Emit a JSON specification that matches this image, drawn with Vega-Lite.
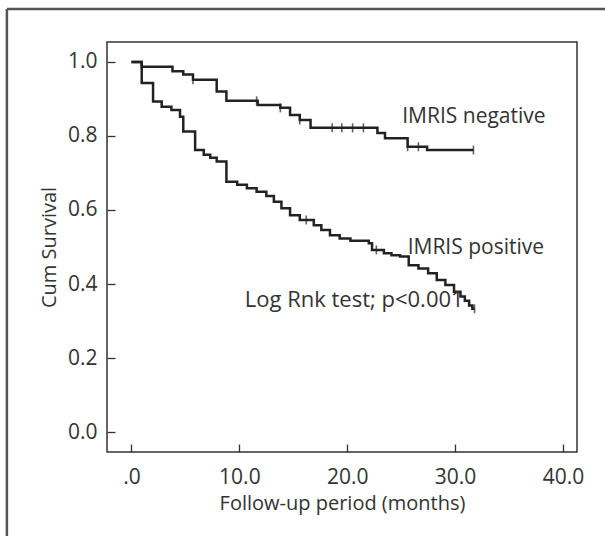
{
  "$schema": "https://vega.github.io/schema/vega-lite/v6.json",
  "width": 470,
  "height": 410,
  "autosize": {"type": "none"},
  "padding": {"left": 107, "top": 42, "right": 28, "bottom": 84},
  "background": "white",
  "config": {
    "view": {"stroke": "#333333", "strokeWidth": 1.5},
    "font": "Open Sans",
    "axis": {
      "grid": false,
      "domain": false,
      "tickColor": "#333333",
      "tickSize": -8,
      "tickWidth": 1.3,
      "labelFont": "Open Sans",
      "labelFontSize": 21,
      "labelColor": "#333333",
      "titleFont": "Open Sans",
      "titleFontSize": 20,
      "titleFontWeight": "normal",
      "titleColor": "#333333"
    }
  },
  "datasets": {
    "curves": [
      {"group": "negative", "t": 0, "s": 1.0},
      {"group": "negative", "t": 0.95, "s": 0.987},
      {"group": "negative", "t": 3.8, "s": 0.975},
      {"group": "negative", "t": 4.8, "s": 0.966},
      {"group": "negative", "t": 5.7, "s": 0.952},
      {"group": "negative", "t": 7.9, "s": 0.92},
      {"group": "negative", "t": 8.8, "s": 0.895},
      {"group": "negative", "t": 11.7, "s": 0.884},
      {"group": "negative", "t": 13.8, "s": 0.876},
      {"group": "negative", "t": 14.7, "s": 0.857},
      {"group": "negative", "t": 15.6, "s": 0.843},
      {"group": "negative", "t": 16.6, "s": 0.822},
      {"group": "negative", "t": 22.8, "s": 0.808},
      {"group": "negative", "t": 23.5, "s": 0.794},
      {"group": "negative", "t": 25.6, "s": 0.771},
      {"group": "negative", "t": 27.4, "s": 0.762},
      {"group": "negative", "t": 31.7, "s": 0.762},
      {"group": "positive", "t": 0, "s": 1.0},
      {"group": "positive", "t": 0.95, "s": 0.943},
      {"group": "positive", "t": 2.0, "s": 0.893},
      {"group": "positive", "t": 2.8, "s": 0.879},
      {"group": "positive", "t": 3.7, "s": 0.87},
      {"group": "positive", "t": 4.5, "s": 0.852},
      {"group": "positive", "t": 4.8, "s": 0.812},
      {"group": "positive", "t": 5.9, "s": 0.762},
      {"group": "positive", "t": 6.7, "s": 0.749},
      {"group": "positive", "t": 7.3, "s": 0.741},
      {"group": "positive", "t": 7.9, "s": 0.731},
      {"group": "positive", "t": 8.8, "s": 0.676},
      {"group": "positive", "t": 9.8, "s": 0.668},
      {"group": "positive", "t": 10.7, "s": 0.659},
      {"group": "positive", "t": 11.6, "s": 0.649},
      {"group": "positive", "t": 12.5, "s": 0.638},
      {"group": "positive", "t": 13.2, "s": 0.622},
      {"group": "positive", "t": 13.9, "s": 0.605},
      {"group": "positive", "t": 14.7, "s": 0.586},
      {"group": "positive", "t": 15.6, "s": 0.573},
      {"group": "positive", "t": 16.9, "s": 0.559},
      {"group": "positive", "t": 17.6, "s": 0.546},
      {"group": "positive", "t": 18.4, "s": 0.532},
      {"group": "positive", "t": 19.3, "s": 0.523},
      {"group": "positive", "t": 20.3, "s": 0.517},
      {"group": "positive", "t": 22.0, "s": 0.51},
      {"group": "positive", "t": 22.3, "s": 0.492},
      {"group": "positive", "t": 23.4, "s": 0.483},
      {"group": "positive", "t": 24.1, "s": 0.478},
      {"group": "positive", "t": 24.9, "s": 0.474},
      {"group": "positive", "t": 25.7, "s": 0.451},
      {"group": "positive", "t": 26.6, "s": 0.442},
      {"group": "positive", "t": 27.5, "s": 0.429},
      {"group": "positive", "t": 28.3, "s": 0.411},
      {"group": "positive", "t": 29.1, "s": 0.397},
      {"group": "positive", "t": 29.9, "s": 0.379},
      {"group": "positive", "t": 30.5, "s": 0.366},
      {"group": "positive", "t": 30.9, "s": 0.355},
      {"group": "positive", "t": 31.3, "s": 0.342},
      {"group": "positive", "t": 31.6, "s": 0.333},
      {"group": "positive", "t": 31.8, "s": 0.333}
    ],
    "censored": [
      {"group": "negative", "t": 5.7, "s": 0.952},
      {"group": "negative", "t": 11.6, "s": 0.895},
      {"group": "negative", "t": 13.8, "s": 0.876},
      {"group": "negative", "t": 15.6, "s": 0.843},
      {"group": "negative", "t": 18.6, "s": 0.822},
      {"group": "negative", "t": 19.5, "s": 0.822},
      {"group": "negative", "t": 20.5, "s": 0.822},
      {"group": "negative", "t": 21.5, "s": 0.822},
      {"group": "negative", "t": 25.6, "s": 0.771},
      {"group": "negative", "t": 26.6, "s": 0.771},
      {"group": "negative", "t": 31.7, "s": 0.762},
      {"group": "positive", "t": 16.2, "s": 0.573},
      {"group": "positive", "t": 22.7, "s": 0.492},
      {"group": "positive", "t": 31.8, "s": 0.333}
    ],
    "notes": [
      {"label": "IMRIS negative", "t": 25.1, "s": 0.851},
      {"label": "IMRIS positive", "t": 25.6, "s": 0.497}
    ],
    "test": [
      {"label": "Log Rnk test; p<0.001", "t": 10.5, "s": 0.357}
    ],
    "frame": [
      {"side": "frame"}
    ]
  },
  "layer": [
    {
      "data": {"name": "curves"},
      "mark": {"type": "line", "interpolate": "step-after", "color": "#222222", "strokeWidth": 2.5},
      "encoding": {
        "x": {
          "field": "t", "type": "quantitative",
          "scale": {"domain": [-2.27, 41.3], "nice": false, "zero": false},
          "axis": {
            "values": [0, 10, 20, 30, 40],
            "labelExpr": "datum.value == 0 ? '.0' : format(datum.value, '.1f')",
            "labelFlush": false,
            "labelPadding": 22,
            "title": "Follow-up period (months)",
            "titlePadding": 6
          }
        },
        "y": {
          "field": "s", "type": "quantitative",
          "scale": {"domain": [-0.054, 1.054], "nice": false, "zero": false},
          "axis": {
            "values": [0, 0.2, 0.4, 0.6, 0.8, 1.0],
            "format": ".1f",
            "labelPadding": 18,
            "title": "Cum Survival",
            "titlePadding": 8
          }
        },
        "detail": {"field": "group"}
      }
    },
    {
      "data": {"name": "censored"},
      "mark": {"type": "tick", "orient": "vertical", "color": "#222222", "size": 9, "thickness": 1.6},
      "encoding": {
        "x": {"field": "t", "type": "quantitative"},
        "y": {"field": "s", "type": "quantitative"}
      }
    },
    {
      "data": {"name": "notes"},
      "mark": {"type": "text", "align": "left", "baseline": "middle", "fontSize": 21, "color": "#333333", "font": "Open Sans"},
      "encoding": {
        "x": {"field": "t", "type": "quantitative"},
        "y": {"field": "s", "type": "quantitative"},
        "text": {"field": "label"}
      }
    },
    {
      "data": {"name": "test"},
      "mark": {"type": "text", "align": "left", "baseline": "middle", "fontSize": 22, "color": "#333333", "font": "Open Sans"},
      "encoding": {
        "x": {"field": "t", "type": "quantitative"},
        "y": {"field": "s", "type": "quantitative"},
        "text": {"field": "label"}
      }
    },
    {
      "data": {"name": "frame"},
      "mark": {"type": "rule", "color": "#555555", "strokeWidth": 2.5},
      "encoding": {
        "x": {"datum": -11.55, "type": "quantitative"},
        "y": {"datum": 1.143, "type": "quantitative"},
        "y2": {"datum": -0.3}
      }
    },
    {
      "data": {"name": "frame"},
      "mark": {"type": "rule", "color": "#555555", "strokeWidth": 2.5},
      "encoding": {
        "x": {"datum": -11.55, "type": "quantitative"},
        "x2": {"datum": 46},
        "y": {"datum": 1.143, "type": "quantitative"}
      }
    }
  ]
}
